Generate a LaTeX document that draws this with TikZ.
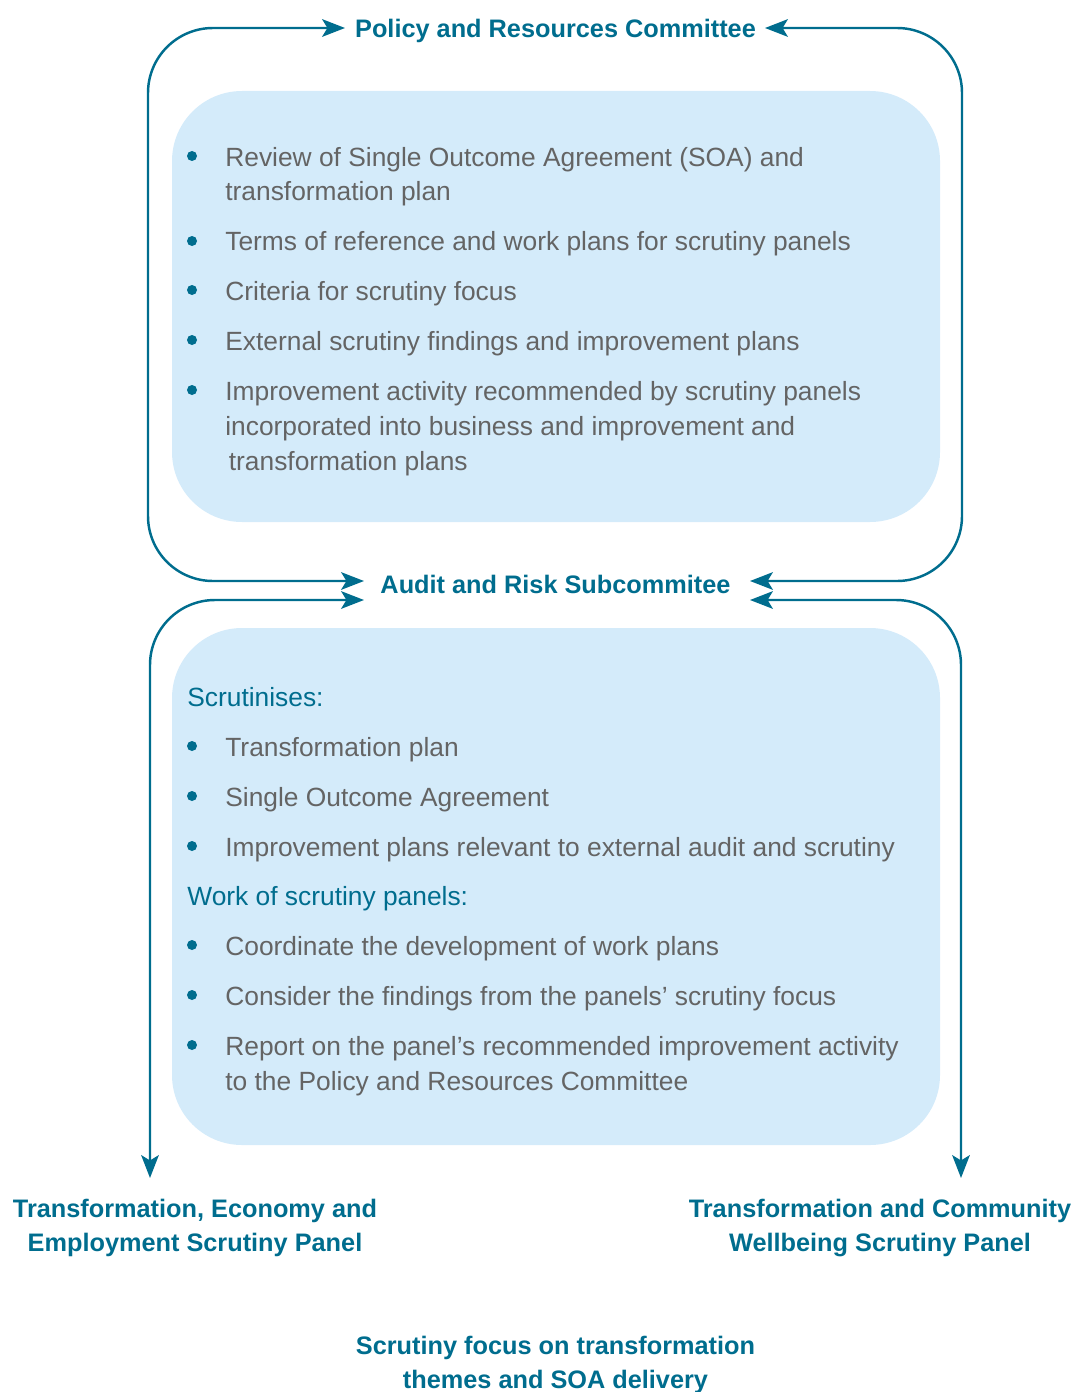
\documentclass[tikz,border=0pt]{standalone}
\usepackage{fontspec}
\setmainfont{Liberation Sans}
\usetikzlibrary{arrows.meta,calc}
\definecolor{scrteal}{RGB}{0,109,142}
\definecolor{boxblue}{RGB}{212,235,250}
\definecolor{txtgray}{RGB}{100,100,100}
\tikzset{
	link/.style={draw=scrteal, line width=1.4pt, rounded corners=1.3cm,
		{Stealth[length=13pt,width=10pt,inset=3pt]}-{Stealth[length=13pt,width=10pt,inset=3pt]}},
	head/.style={inner sep=0pt, anchor=base, text=scrteal, align=center,
		font=\fontsize{14.4pt}{19.3pt}\selectfont\bfseries},
	itemtext/.style={inner sep=0pt, anchor=base west, text=txtgray, align=left,
		font=\fontsize{15pt}{19.92pt}\selectfont},
	subhead/.style={itemtext, text=scrteal},
	dot/.style={fill=scrteal}
}
\begin{document}
\begin{tikzpicture}[x=0.02cm, y=-0.02cm]
	\useasboundingbox (0,0) rectangle (1077,1392);
	
	%%%%% boxes %%%%%
	\fill[boxblue, rounded corners=1.4cm] (172,91) rectangle (940,522);
	\fill[boxblue, rounded corners=1.4cm] (172,628) rectangle (940,1145);
	
	%%%%% committees and panels (base = last line) %%%%%
	\node[head] (pol) at (555.5,38) {Policy and Resources Committee};
	\node[head] (aud) at (555.5,593) {Audit and Risk Subcommitee};
	\node[head] (tee) at (195,1251) {Transformation, Economy and\\Employment Scrutiny Panel};
	\node[head] (tcw) at (880,1251) {Transformation and Community\\Wellbeing Scrutiny Panel};
	\node[head] (foc) at (555.5,1388) {Scrutiny focus on transformation\\themes and SOA delivery};
	
	%%%%% arrow ends %%%%%
	\coordinate (polL) at (345,28);
	\coordinate (polR) at (765,28);
	\coordinate (audL1) at (364,581);
	\coordinate (audR1) at (750,581);
	\coordinate (audL2) at (364,600);
	\coordinate (audR2) at (750,600);
	\coordinate (teeIn) at (150,1178);
	\coordinate (tcwIn) at (961,1178);
	
	\draw[link] (polL) -| (148,581) -- (audL1);
	\draw[link] (polR) -| (962,581) -- (audR1);
	\draw[link] (audL2) -| (teeIn);
	\draw[link] (audR2) -| (tcwIn);
	
	%%%%% top box %%%%%
	\fill[dot] (192,156) circle (5);
	\node[itemtext] (top1) at (225,201) {Review of Single Outcome Agreement (SOA) and\\transformation plan};
	\fill[dot] (192,241) circle (5);
	\node[itemtext] (top2) at (225,251) {Terms of reference and work plans for scrutiny panels};
	\fill[dot] (192,290) circle (5);
	\node[itemtext] (top3) at (225,300) {Criteria for scrutiny focus};
	\fill[dot] (192,340) circle (5);
	\node[itemtext] (top4) at (225,350) {External scrutiny findings and improvement plans};
	\fill[dot] (192,390) circle (5);
	\node[itemtext] (top5) at (225,470) {Improvement activity recommended by scrutiny panels\\incorporated into business and improvement and\\\hspace{2pt}transformation plans};
	
	%%%%% bottom box %%%%%
	\node[subhead] (scr) at (187,706) {Scrutinises:};
	\fill[dot] (192,746) circle (5);
	\node[itemtext] (scr1) at (225,756) {Transformation plan};
	\fill[dot] (192,796) circle (5);
	\node[itemtext] (scr2) at (225,806) {Single Outcome Agreement};
	\fill[dot] (192,846) circle (5);
	\node[itemtext] (scr3) at (225,856) {Improvement plans relevant to external audit and scrutiny};
	\node[subhead] (wrk) at (187,905) {Work of scrutiny panels:};
	\fill[dot] (192,945) circle (5);
	\node[itemtext] (wrk1) at (225,955) {Coordinate the development of work plans};
	\fill[dot] (192,995) circle (5);
	\node[itemtext] (wrk2) at (225,1005) {Consider the findings from the panels' scrutiny focus};
	\fill[dot] (192,1045) circle (5);
	\node[itemtext] (wrk3) at (225,1090) {Report on the panel's recommended improvement activity\\to the Policy and Resources Committee};
\end{tikzpicture}
\end{document}
